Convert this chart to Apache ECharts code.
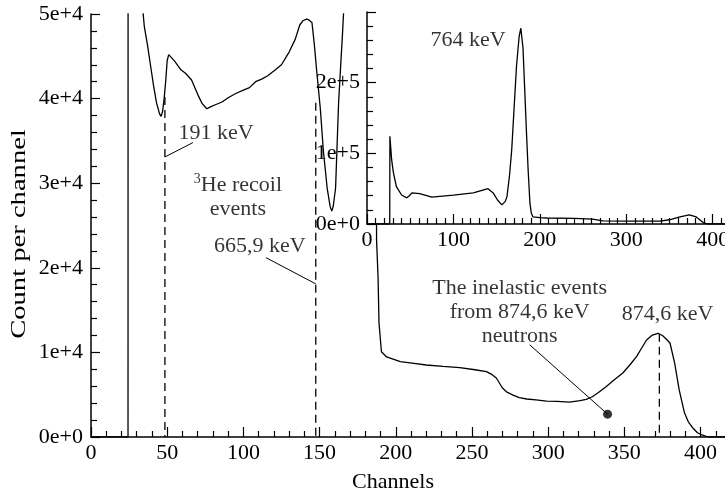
<!DOCTYPE html>
<html>
<head>
<meta charset="utf-8">
<script src="https://cdn.jsdelivr.net/npm/echarts@6/dist/echarts.min.js"></script>
<style>
  html, body { margin: 0; padding: 0; background: #fff; }
  #chart_div { width: 725px; height: 497px; }
</style>
</head>
<body>
<div id="chart_div"></div>
<script>
// 主谱 [channel, count]
var mainSpectrum = [
  [0, 0], [24.3, 0], [24.5, 300000], [27, 250000], [30, 120000], [33, 56000],
  [34, 50500], [35, 48500], [37, 46400], [39, 44000], [41, 41600], [43, 39500],
  [45, 38200], [46, 37900], [47, 38500], [48, 40000], [49, 42000], [50, 44500],
  [51, 45200], [52, 45000], [55, 44400], [59, 43400], [62, 43000], [66, 42200],
  [70, 40500], [73, 39400], [76, 38800], [78, 39000], [82, 39300], [86, 39600],
  [90, 40100], [95, 40600], [100, 41000], [104, 41300], [108, 42000], [112, 42300],
  [116, 42700], [121, 43400], [125, 44000], [130, 45500], [134, 47000], [137, 48700],
  [139, 49200], [141.5, 49400], [143, 49300], [145, 49000], [146.5, 46500], [148, 43500],
  [150.5, 38800], [152.5, 33800], [155, 29400], [157, 27200], [158, 26700], [159, 27300],
  [160.5, 29400], [162.5, 39600], [165, 47500], [166, 51000], [168, 80000], [175, 200000],
  [185, 150000], [187.2, 60000], [187.4, 23300], [188.4, 18800], [189, 13470],
  [190.6, 10080], [194, 9460], [203, 8900], [212, 8700], [220, 8510], [231, 8350],
  [242, 8200], [252, 7950], [259.5, 7720], [263, 7400], [266, 6970], [270, 5790],
  [273, 5300], [277, 4960], [281, 4650], [286, 4490], [292, 4380], [299, 4250],
  [306, 4200], [314, 4130], [321, 4290], [325, 4450], [329, 4760], [333, 5250],
  [338, 5950], [343, 6700], [349, 7560], [354, 8600], [358, 9500], [361, 10400],
  [364.6, 11470], [368, 12000], [372, 12260], [375, 12000], [378, 11500], [380, 11080],
  [383, 8750], [386, 5560], [389.5, 2830], [392, 1800], [395, 1060], [398, 500],
  [401, 240], [405, 0], [420, 0]
]

// 插图谱 [channel, count]
var insetSpectrum = [
  [0, 0], [26.3, 0], [26.5, 124000], [28.5, 91000], [30.5, 73000], [34, 53000],
  [40, 41000], [46, 37000], [49, 40000], [52, 44000], [61, 43000], [75, 38000],
  [100, 41000], [123, 44000], [140, 50000], [146, 44000], [151, 34000], [156, 27000],
  [160, 32000], [162, 39000], [165, 70000], [167.5, 106000], [170, 160000], [173, 224000],
  [176, 265000], [178, 277000], [180.5, 249000], [182.5, 190000], [184.5, 130000],
  [186.5, 75000], [188.5, 30000], [190, 16000], [192, 10000], [200, 9000], [208, 8500],
  [240, 8000], [261, 7000], [273, 4500], [300, 4000], [339, 4000], [350, 6000],
  [362, 10000], [373, 13000], [381, 10000], [386, 5000], [389, 2000], [394, 0], [420, 0]
]

// 虚线标记
var line191 = [[48.5, 40200], [48.5, 0]]
var line666 = [[147.5, 39500], [147.5, 0]]
var line875 = [[373, 12200], [373, 0]]

// 引线
var lead191 = [[66.9, 34800], [48.5, 33100]]
var lead666 = [[114.8, 21200], [147.5, 18100]]
var leadInel = [[287.9, 10900], [339, 2700]]
var dotInel = [[339, 2700]]

// 注释文字 [channel, count, text]
var mainNotes = [
  [82, 35900, '191 keV'],
  [96.4, 28400, '{s|3}He recoil\nevents'],
  [110.8, 22600, '665,9 keV'],
  [281.3, 14800, 'The inelastic events\nfrom 874,6 keV\nneutrons'],
  [378.4, 14500, '874,6 keV']
]
var insetNotes = [
  [117, 260000, '764 keV']
]

var FONT = 'Liberation Serif'
var SIZE = 22
var black = '#000'

function expLabel(v) {
  if (v === 0) return '0e+0'
  var e = Math.floor(Math.log10(v) + 1e-9)
  var m = Math.round(v / Math.pow(10, e) * 10) / 10
  return m + 'e+' + e
}

function axisX(grid, interval, split, z) {
  return {
    type: 'value', gridIndex: grid, min: 0, max: 420, interval: interval, z: z,
    axisLine: { lineStyle: { color: black, width: 1.5 } },
    axisTick: { inside: true, length: 10, lineStyle: { color: black, width: 1.2 } },
    minorTick: { show: true, splitNumber: split, length: 6, lineStyle: { color: black, width: 1.2 } },
    splitLine: { show: false },
    axisLabel: { color: black, fontFamily: FONT, fontSize: SIZE, margin: 5, showMaxLabel: false }
  }
}

function axisY(grid, max, interval, margin, z) {
  return {
    type: 'value', gridIndex: grid, min: 0, max: max, interval: interval, z: z,
    axisLine: { show: true, lineStyle: { color: black, width: 1.5 } },
    axisTick: { show: true, inside: true, length: 9, lineStyle: { color: black, width: 1.2 } },
    minorTick: { show: true, splitNumber: 5, length: 6, lineStyle: { color: black, width: 1.2 } },
    splitLine: { show: false },
    axisLabel: { color: black, fontFamily: FONT, fontSize: SIZE, margin: margin, formatter: expLabel }
  }
}

function lineSeries(data, xi, z, style) {
  return {
    type: 'line', xAxisIndex: xi, yAxisIndex: xi, data: data, z: z,
    showSymbol: false, symbol: 'none', silent: true,
    lineStyle: style
  }
}

function noteSeries(notes, xi, z) {
  return {
    type: 'scatter', xAxisIndex: xi, yAxisIndex: xi, z: z, symbolSize: 1, silent: true,
    itemStyle: { color: 'rgba(0,0,0,0)' },
    data: notes.map(function (n) { return { value: [n[0], n[1]], note: n[2] } }),
    label: {
      show: true, position: 'inside', color: black, fontFamily: FONT, fontSize: SIZE,
      lineHeight: 24, align: 'center', textBorderWidth: 0,
      formatter: function (p) { return p.data.note },
      rich: { s: { fontSize: 14, fontFamily: FONT, color: black, textBorderWidth: 0, padding: [0, 0, 10, 0] } }
    }
  }
}

var mainAxisX = axisX(0, 50, 5, 0)
mainAxisX.name = 'Channels'
mainAxisX.nameLocation = 'middle'
mainAxisX.nameGap = 34
mainAxisX.nameTextStyle = { color: black, fontFamily: FONT, fontSize: SIZE, padding: [0, 36, 0, 0] }

var mainAxisY = axisY(0, 50000, 10000, 8, 0)
var insetAxisY = axisY(1, 300000, 100000, 7, 11)
insetAxisY.axisLabel.showMaxLabel = false

var dashStyle = { color: black, width: 1.3, type: [8, 5] }
var thin = { color: black, width: 1 }

var option = {
  animation: false,
  backgroundColor: '#fff',
  grid: [
    { left: 91, top: 14, right: -6, bottom: 60, outerBoundsMode: 'none' },
    { left: 367, top: 12, right: -5, bottom: 273, outerBoundsMode: 'none',
      show: true, backgroundColor: '#fff', borderWidth: 0, z: 10 }
  ],
  // 纵轴标题，字距较宽
  graphic: [{
    type: 'text', x: 19, y: 234, rotation: Math.PI / 2, scaleX: 1.3, silent: true,
    style: {
      text: 'Count per channel', fill: black, font: SIZE + 'px "' + FONT + '"',
      align: 'center', verticalAlign: 'middle', textAlign: 'center', textVerticalAlign: 'middle'
    }
  }],
  xAxis: [mainAxisX, axisX(1, 100, 10, 11)],
  yAxis: [mainAxisY, insetAxisY],
  series: [
    lineSeries(mainSpectrum, 0, 2, { color: black, width: 1.3 }),
    lineSeries(line191, 0, 2, dashStyle),
    lineSeries(line666, 0, 2, dashStyle),
    lineSeries(line875, 0, 2, dashStyle),
    lineSeries(lead191, 0, 2, thin),
    lineSeries(lead666, 0, 2, thin),
    lineSeries(leadInel, 0, 2, thin),
    {
      type: 'scatter', xAxisIndex: 0, yAxisIndex: 0, z: 3, data: dotInel,
      symbolSize: 9, itemStyle: { color: black }, silent: true
    },
    noteSeries(mainNotes, 0, 3),
    lineSeries(insetSpectrum, 1, 12, { color: black, width: 1.3 }),
    noteSeries(insetNotes, 1, 13)
  ]
}

var myChart = echarts.init(document.getElementById('chart_div'))
myChart.setOption(option)
</script>
</body>
</html>
